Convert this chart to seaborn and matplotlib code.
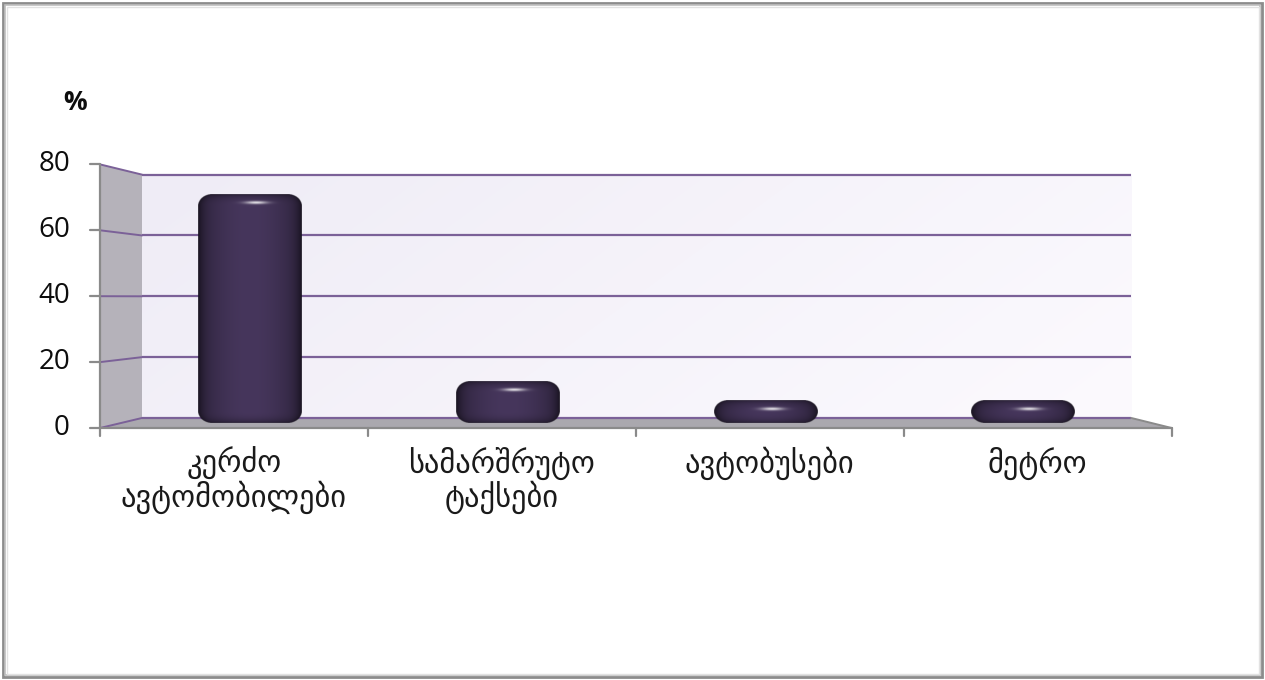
import numpy as np
import matplotlib
matplotlib.use("Agg")
import matplotlib.pyplot as plt
import seaborn as sns
from matplotlib.patches import Polygon, Rectangle
from matplotlib import transforms

# ---- data -------------------------------------------------------------
categories = ["კერძო\nავტომობილები", "სამარშრუტო\nტაქსები", "ავტობუსები", "მეტრო"]
values = [72, 13, 7, 7]
y_ticks = [0, 20, 40, 60, 80]
y_unit = "%"

# ---- figure & axes (axes = middle depth plane of the 3-D box) ---------
W, H = 1265, 680
sns.set_theme(style="white")
plt.rcParams["font.family"] = ["Open Sans", "DejaVu Sans"]

fig = plt.figure(figsize=(W / 100, H / 100), dpi=100)
fig.patch.set_facecolor("white")

left_px, right_px = 121.0, 1151.5
base_px, top_px = 423.0, 169.5
ax = fig.add_axes([left_px / W, 1 - base_px / H,
                   (right_px - left_px) / W, (base_px - top_px) / H])

n = len(categories)
x_lo, x_hi = -0.5, n - 0.5
y_lo, y_hi = y_ticks[0], y_ticks[-1]
px_x = (right_px - left_px) / (x_hi - x_lo)
px_y = (base_px - top_px) / (y_hi - y_lo)

# simple perspective: depth d = -1 (front) .. +1 (back)
DEPTH = 0.04
CX, CY = 1.538, 39.6


def proj(x, y, d):
    s = 1 - DEPTH * d
    return CX + s * (x - CX), CY + s * (y - CY)


# ---- back wall (soft lavender gradient) --------------------------------
bx0, by0 = proj(x_lo, y_lo, 1)
bx1, by1 = proj(x_hi, y_hi, 1)
gx = np.linspace(0, 1, 300)[None, :]
gy = np.linspace(0, 1, 100)[:, None]
c_a = np.array([239, 236, 246]) / 255
c_b = np.array([252, 250, 254]) / 255
mix = np.clip(0.75 * gx + 0.25 * gy, 0, 1)[..., None]
wall = c_a * (1 - mix) + c_b * mix
ax.imshow(wall, extent=(bx0, bx1, by0, by1), origin="upper", aspect="auto",
          zorder=0, interpolation="bilinear", clip_on=False)

# ---- left side wall and floor -----------------------------------------
side = [proj(x_lo, y_lo, -1), proj(x_lo, y_hi, -1),
        proj(x_lo, y_hi, 1), proj(x_lo, y_lo, 1)]
ax.add_patch(Polygon(side, closed=True, facecolor="#b5b2ba", edgecolor="none",
                     zorder=1, clip_on=False))
floor = [proj(x_lo, y_lo, -1), proj(x_hi, y_lo, -1),
         proj(x_hi, y_lo, 1), proj(x_lo, y_lo, 1)]
ax.add_patch(Polygon(floor, closed=True, facecolor="#aaa8ae", edgecolor="none",
                     zorder=1, clip_on=False))

# ---- gridlines on back wall and side wall -----------------------------
grid_c = "#7b6198"
for yv in y_ticks:
    p0, p1 = proj(x_lo, yv, 1), proj(x_hi, yv, 1)
    ax.plot([p0[0], p1[0]], [p0[1], p1[1]], color=grid_c, lw=1.6,
            zorder=2, clip_on=False, solid_capstyle="butt")
    q0 = proj(x_lo, yv, -1)
    ax.plot([q0[0], p0[0]], [q0[1], p0[1]], color=grid_c, lw=1.4,
            zorder=2, clip_on=False)

# ---- front axis lines and ticks ---------------------------------------
axis_c = "#8a8a8a"
f0 = proj(x_lo, y_lo, -1)
f1 = proj(x_lo, y_hi, -1)
f2 = proj(x_hi, y_lo, -1)
b2 = proj(x_hi, y_lo, 1)
ax.plot([f0[0], f1[0]], [f0[1], f1[1]], color=axis_c, lw=1.6, zorder=3, clip_on=False)
ax.plot([f0[0], f2[0]], [f0[1], f2[1]], color=axis_c, lw=1.6, zorder=3, clip_on=False)
ax.plot([f2[0], b2[0]], [f2[1], b2[1]], color=axis_c, lw=1.4, zorder=3, clip_on=False)

tick_x = 10 / px_x
tick_y = 8 / px_y
for yv in y_ticks:
    p = proj(x_lo, yv, -1)
    ax.plot([p[0] - tick_x, p[0]], [p[1], p[1]], color=axis_c, lw=1.6,
            zorder=3, clip_on=False)
for xb in np.arange(x_lo, x_hi + 0.01, 1.0):
    p = proj(xb, y_lo, -1)
    ax.plot([p[0], p[0]], [p[1], p[1] - tick_y], color=axis_c, lw=1.6,
            zorder=3, clip_on=False)

# ---- bars --------------------------------------------------------------
sns.barplot(x=list(range(n)), y=values, ax=ax, width=0.4, color="#3b2b4e",
            saturation=1, zorder=5)
ax.set_xlim(x_lo, x_hi)
ax.set_ylim(y_lo, y_hi)
ax.axis("off")


def cylinder_rgba(wpx, hpx, rx, ry, ss=3):
    nx, ny = int(round(wpx * ss)), max(int(round(hpx * ss)), 2)
    u = (np.arange(nx) + 0.5) / nx * wpx
    v = (np.arange(ny) + 0.5) / ny * hpx
    U, V = np.meshgrid(u, v)
    dx = np.clip(np.abs(U - wpx / 2) - (wpx / 2 - rx), 0, None) / rx
    dy = np.clip(np.abs(V - hpx / 2) - (hpx / 2 - ry), 0, None) / ry
    d = np.sqrt(dx ** 2 + dy ** 2)
    edge = np.sqrt(np.clip(1 - d ** 2, 0, 1))
    t = np.clip(U / wpx, 0, 1)
    cyl = 0.55 + 0.45 * np.sin(np.pi * t) ** 0.7
    light = (0.3 + 0.7 * edge ** 0.7) * cyl
    base = np.array([70, 54, 92]) / 255
    rgb = base[None, None, :] * light[..., None]
    hx = wpx / 2 + 0.06 * wpx
    hy = min(8.5, hpx / 2)
    g = np.exp(-(((U - hx) / 11.0) ** 2 + ((V - hy) / 1.5) ** 2))
    rgb = rgb + (1 - rgb) * (0.85 * g)[..., None]
    alpha = np.clip((1 - d) * min(rx, ry) + 0.5, 0, 1)
    alpha[d >= 1] = 0
    return np.dstack([np.clip(rgb, 0, 1), alpha])


for p in list(ax.patches):
    if not isinstance(p, Rectangle) or p.get_height() <= 0:
        continue
    x0, w, h = p.get_x(), p.get_width(), p.get_height()
    p.set_visible(False)
    wpx, hpx = w * px_x, h * px_y
    img = cylinder_rgba(wpx, hpx, rx=14.0, ry=min(12.0, hpx / 2))
    ax.imshow(img, extent=(x0, x0 + w, 0, h), origin="upper", aspect="auto",
              zorder=6, interpolation="bilinear", clip_on=False)

ax.set_xlim(x_lo, x_hi)
ax.set_ylim(y_lo, y_hi)

# ---- labels ------------------------------------------------------------
ytext = transforms.offset_copy(ax.transData, fig=fig, x=-30, y=0, units="dots")
for yv in y_ticks:
    p = proj(x_lo, yv, -1)
    ax.text(p[0], p[1], f"{yv}", transform=ytext, ha="right", va="center",
            fontsize=20, color="#0d0d0d", family=["Open Sans", "DejaVu Sans"])

pc = proj(x_lo, y_hi, -1)
utext = transforms.offset_copy(ax.transData, fig=fig, x=-25, y=62, units="dots")
ax.text(pc[0], pc[1], y_unit, transform=utext, ha="center", va="center",
        fontsize=19, fontweight="bold", color="#0d0d0d", family=["Open Sans", "DejaVu Sans"])

xtext = transforms.offset_copy(ax.transData, fig=fig, x=0, y=-19, units="dots")
for i, lab in enumerate(categories):
    p = proj(i, y_lo, -1)
    ax.text(p[0], p[1], lab, transform=xtext, ha="center", va="top",
            fontsize=22, color="#1a1a1a", linespacing=1.0,
            family=["DejaVu Sans"])

# ---- chart frame with soft shadow ------------------------------------
for off, col, lw in [(3, "#8c8c8c", 2.0), (5, "#bdbdbd", 1.2), (6.5, "#e2e2e2", 1.0)]:
    fig.patches.append(Rectangle((off / W, off / H), 1 - 2 * off / W, 1 - 2 * off / H,
                                 transform=fig.transFigure, fill=False,
                                 edgecolor=col, linewidth=lw, zorder=10))

fig.savefig("out.png", dpi=100, facecolor="white")
